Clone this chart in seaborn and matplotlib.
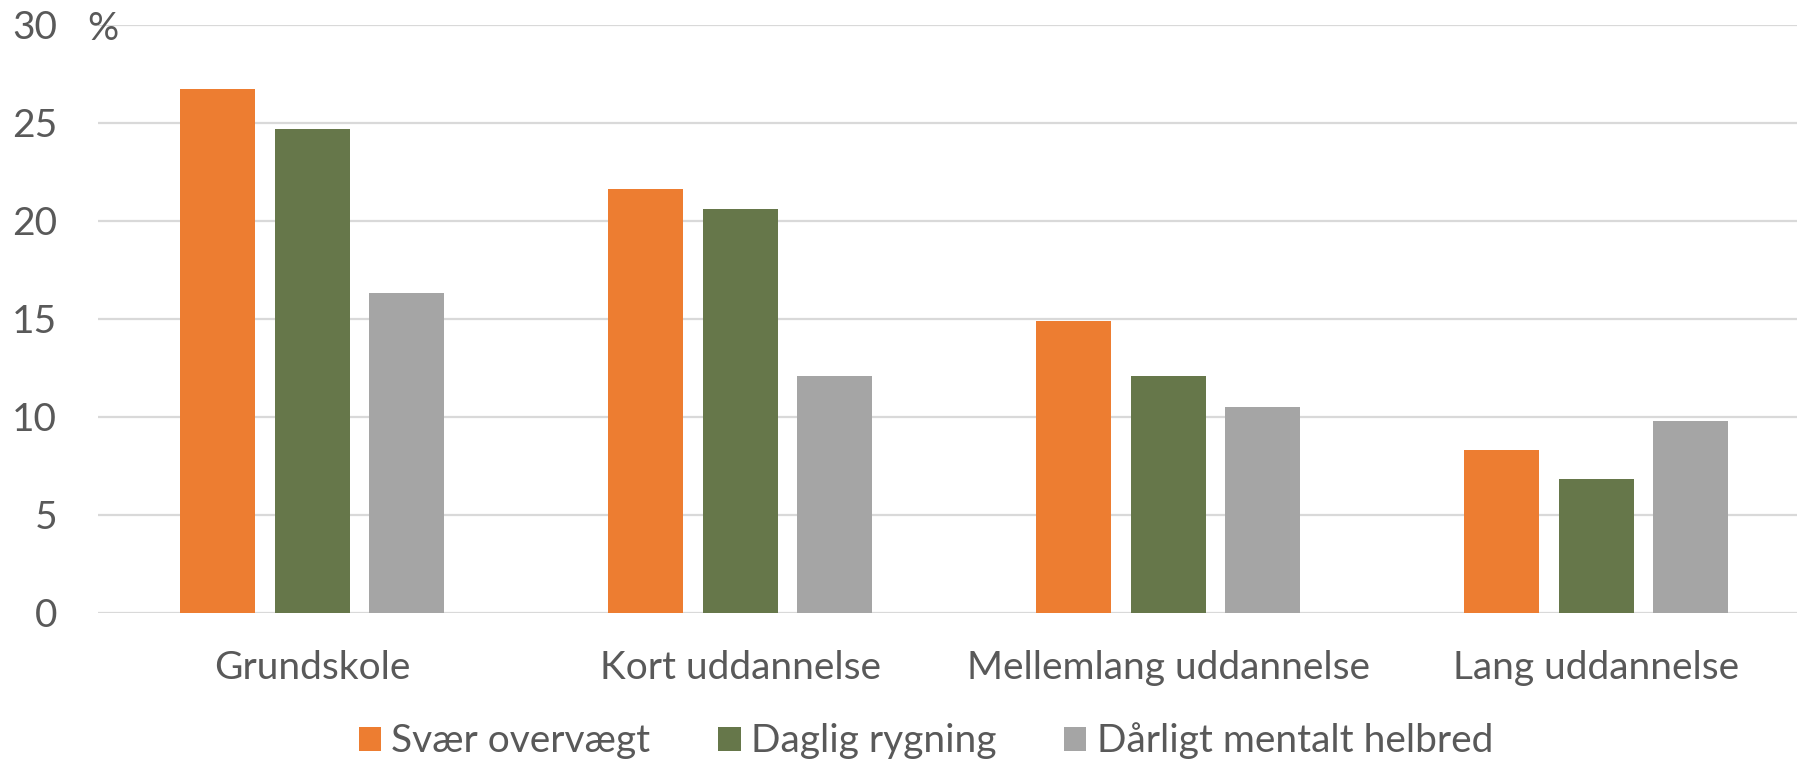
import matplotlib
matplotlib.use("Agg")
import matplotlib.pyplot as plt
from matplotlib.patches import Patch
import seaborn as sns
import pandas as pd

# Andel (%) efter højeste fuldførte uddannelse
uddannelse = ["Grundskole", "Kort uddannelse", "Mellemlang uddannelse", "Lang uddannelse"]
indikatorer = ["Svær overvægt", "Daglig rygning", "Dårligt mentalt helbred"]
svaer_overvaegt = [26.7, 21.6, 14.9, 8.3]
daglig_rygning = [24.7, 20.6, 12.1, 6.8]
daarligt_mentalt = [16.3, 12.1, 10.5, 9.8]
yticks = [0, 5, 10, 15, 20, 25, 30]

farver = ["#ED7D31", "#66774A", "#A5A5A5"]
tekstfarve = "#595959"
gitterfarve = "#D9D9D9"
fs = 28

df = pd.DataFrame({
    "uddannelse": uddannelse * 3,
    "indikator": [indikatorer[0]] * 4 + [indikatorer[1]] * 4 + [indikatorer[2]] * 4,
    "andel": svaer_overvaegt + daglig_rygning + daarligt_mentalt,
})

sns.set_style("white")
plt.rcParams["font.family"] = ["Lato", "DejaVu Sans"]

fig = plt.figure(figsize=(17.97, 7.62), dpi=100)
ax = fig.add_axes([0.05465, 0.19593, 0.9527, 0.77166])

sns.barplot(data=df, x="uddannelse", y="andel", hue="indikator",
            order=uddannelse, hue_order=indikatorer, palette=farver,
            saturation=1, width=0.663, gap=0.207, legend=False, ax=ax,
            linewidth=0)

ax.set_xlim(-0.5, 3.5)
ax.set_ylim(0, 30)
ax.set_yticks(yticks)
ax.set_yticklabels([str(v) for v in yticks])
ax.yaxis.grid(True, color=gitterfarve, linewidth=1.6)
ax.set_axisbelow(True)
for s in ax.spines.values():
    s.set_visible(False)
ax.set_xlabel("")
ax.set_ylabel("")
ax.tick_params(axis="y", length=0, pad=29.5, labelsize=fs, labelcolor=tekstfarve)
ax.tick_params(axis="x", length=0, pad=27, labelsize=fs, labelcolor=tekstfarve)

fig.text(87 / 1797, (762 - 29) / 762, "%", fontsize=fs, color=tekstfarve,
         ha="left", va="center")

handles = [Patch(facecolor=c, edgecolor="none") for c in farver]
fig.legend(handles, indikatorer, loc="center", bbox_to_anchor=(926 / 1797, 21 / 762),
           ncol=3, frameon=False, fontsize=fs, labelcolor=tekstfarve,
           handlelength=0.57, handleheight=0.57, handletextpad=0.26,
           columnspacing=1.75, borderpad=0, borderaxespad=0)

fig.savefig("out.png", dpi=100)
